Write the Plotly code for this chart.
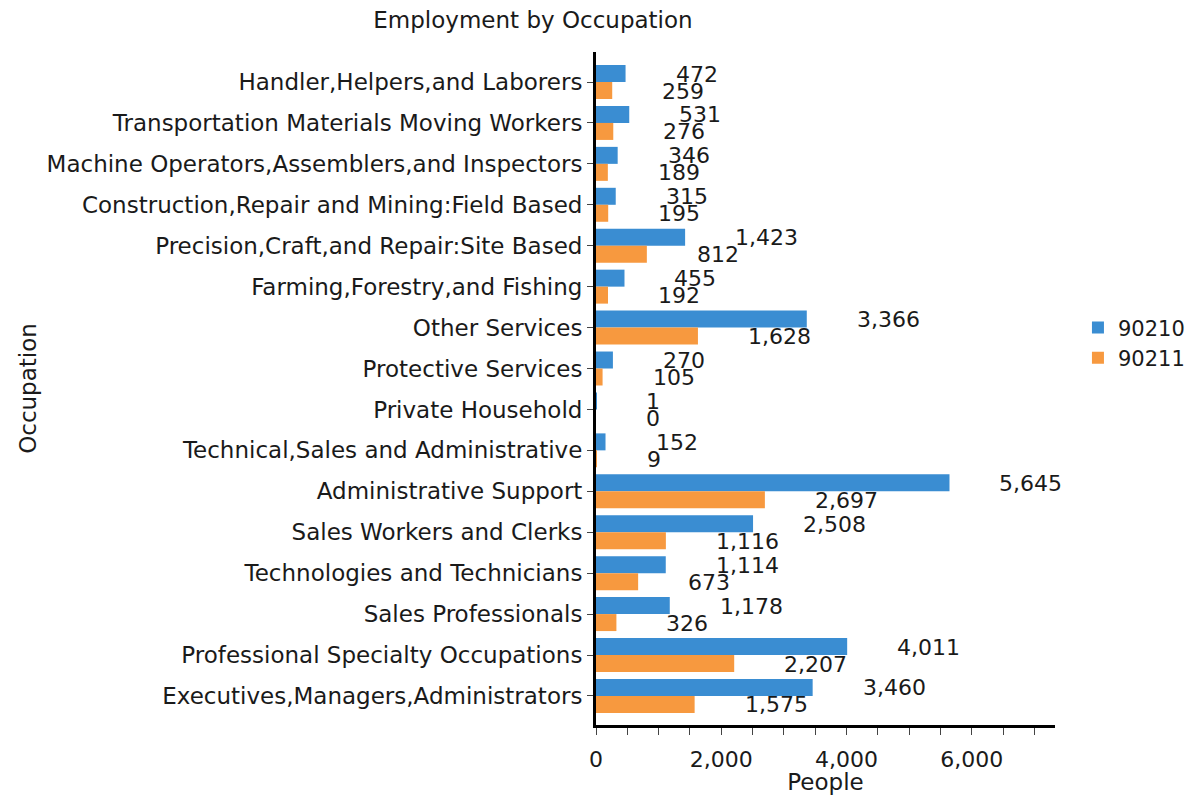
import plotly.graph_objects as go

categories = [
    "Handler,Helpers,and Laborers",
    "Transportation Materials Moving Workers",
    "Machine Operators,Assemblers,and Inspectors",
    "Construction,Repair and Mining:Field Based",
    "Precision,Craft,and Repair:Site Based",
    "Farming,Forestry,and Fishing",
    "Other Services",
    "Protective Services",
    "Private Household",
    "Technical,Sales and Administrative",
    "Administrative Support",
    "Sales Workers and Clerks",
    "Technologies and Technicians",
    "Sales Professionals",
    "Professional Specialty Occupations",
    "Executives,Managers,Administrators",
]
zip_90210 = [472, 531, 346, 315, 1423, 455, 3366, 270, 1, 152, 5645, 2508, 1114, 1178, 4011, 3460]
zip_90211 = [259, 276, 189, 195, 812, 192, 1628, 105, 0, 9, 2697, 1116, 673, 326, 2207, 1575]
series_names = ["90210", "90211"]
x_tickvals = [0, 2000, 4000, 6000]

FONT = "DejaVu Sans"
TXT = "#1a1a1a"
colors = ["#3a8dd2", "#f7993f"]

# page body has an 8px default margin, so the figure is sized to fit the window
W, H = 1185, 787

fig = go.Figure()
for name, vals, col in zip(series_names, [zip_90210, zip_90211], colors):
    fig.add_trace(go.Bar(
        y=categories, x=vals, name=name, orientation="h",
        marker=dict(color=col, line=dict(width=0)),
    ))

# value labels
for vals, ysh in [(zip_90210, 8), (zip_90211, -9)]:
    for c, v in zip(categories, vals):
        fig.add_annotation(
            x=v, y=c, xref="x", yref="y", text=f"{v:,}", showarrow=False,
            xanchor="left", yanchor="middle", xshift=48, yshift=ysh,
            font=dict(family=FONT, size=22, color=TXT),
        )

fig.update_layout(
    width=W, height=H,
    paper_bgcolor="white", plot_bgcolor="white",
    barmode="group", bargap=0.17, bargroupgap=0,
    margin=dict(l=588, r=138, t=44, b=70, autoexpand=False),
    font=dict(family=FONT, size=22, color=TXT),
    title=dict(text="Employment by Occupation", x=525 / W, xanchor="center",
               y=1 - 12 / H, yanchor="middle", font=dict(family=FONT, size=23, color=TXT)),
    legend=dict(x=1.05, xanchor="left", y=0.568, yanchor="middle",
                traceorder="normal", font=dict(family=FONT, size=21, color=TXT),
                itemwidth=30, tracegroupgap=0, bgcolor="rgba(0,0,0,0)"),
    showlegend=True,
)
fig.update_xaxes(
    range=[0, 7330], tickvals=x_tickvals, tickformat=",d",
    showline=True, linecolor="black", linewidth=3,
    ticks="outside", ticklen=7, tickcolor="#444", tickwidth=1,
    minor=dict(dtick=500, tick0=0, ticks="outside", ticklen=7, tickcolor="#444", showgrid=False),
    showgrid=False, zeroline=False, ticklabelstandoff=6,
    title=dict(text="People", font=dict(family=FONT, size=23, color=TXT), standoff=2),
    tickfont=dict(family=FONT, size=22, color=TXT),
)
fig.update_yaxes(
    categoryorder="array", categoryarray=categories,
    range=[15.71, -0.733],
    showline=True, linecolor="black", linewidth=3,
    ticks="outside", ticklen=6, tickcolor="#444", tickwidth=1,
    showgrid=False, zeroline=False,
    title=dict(text="Occupation", font=dict(family=FONT, size=23, color=TXT), standoff=4),
    tickfont=dict(family=FONT, size=23, color=TXT),
)

fig.write_html("out.html")
